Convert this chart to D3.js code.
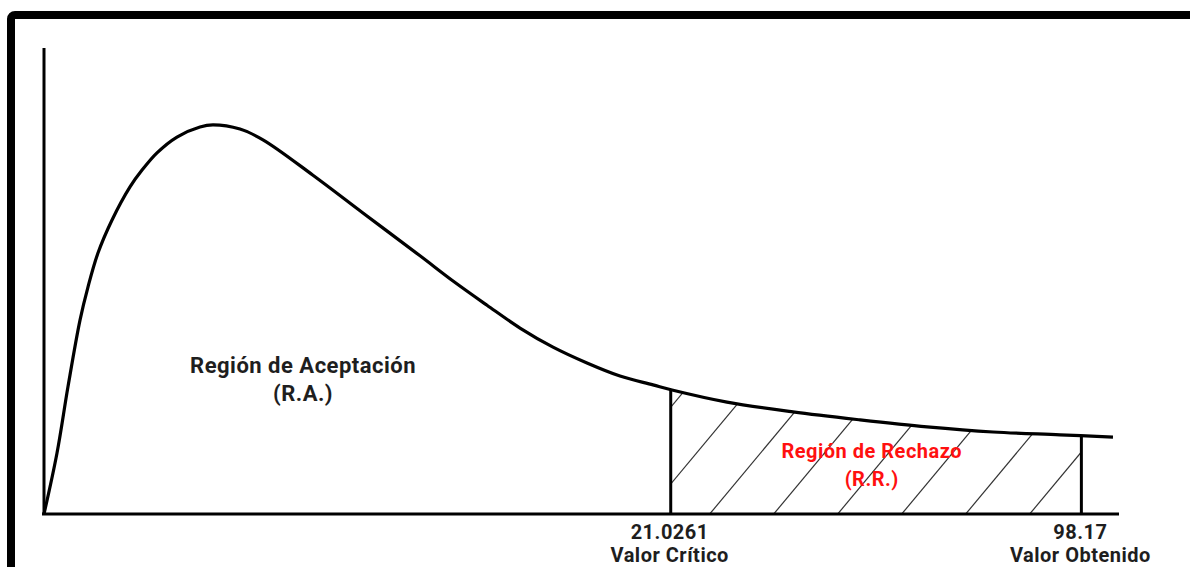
<!DOCTYPE html>
<html>
<head>
<meta charset="utf-8">
<script src="https://cdn.jsdelivr.net/npm/d3@7"></script>
<style>
  html, body { margin: 0; padding: 0; background: #fff; overflow: hidden; }
  text { font-family: Roboto, "Noto Sans", sans-serif; font-weight: 700; }
</style>
</head>
<body>
<div id="chart"></div>
<script>
// curve (schematic chi-square shape), x and y in relative units 0..100
const curveX = [0, 1.21, 2.23, 3.35, 4.09, 5.02, 6.33, 8.0, 9.12, 10.51, 12.37, 14.51, 15.72,
  18.23, 20.37, 25.02, 29.67, 34.98, 38.05, 41.21, 44.28, 47.35, 50.51, 53.58, 56.65, 58.42,
  63.53, 69.67, 75.91, 82.14, 88.28, 94.51, 99.44];
const curveY = [0, 13.1, 27.3, 41.6, 48.7, 56.0, 63.1, 70.2, 73.8, 77.5, 80.9, 83.05, 83.5,
  82.6, 80.3, 72.7, 64.6, 55.4, 50.0, 44.8, 39.9, 35.8, 32.4, 29.6, 27.7, 26.6,
  24.0, 21.9, 20.2, 18.7, 17.6, 17.0, 16.5];

// marked positions on the axis
const markPos = [58.3, 96.5];
const markValues = ["21.0261", "98.17"];
const markNames = ["Valor Crítico", "Valor Obtenido"];

// region labels
const regionLabels = [
  { lines: ["Región de Aceptación", "(R.A.)"], x: 24.1, y: 30.3, color: "#1e1e1e", size: 22 },
  { lines: ["Región de Rechazo", "(R.R.)"], x: 77.0, y: 12.0, color: "#ff1010", size: 20 }
];

const width = 1190, height = 567;

const svg = d3.select("#chart").append("svg")
  .attr("width", width)
  .attr("height", height);

// frame (only top and left edges are inside the picture)
svg.append("rect")
  .attr("x", 11).attr("y", 15)
  .attr("width", 1400).attr("height", 800)
  .attr("rx", 4)
  .attr("fill", "none")
  .attr("stroke", "#000")
  .attr("stroke-width", 8);

const x = d3.scaleLinear().domain([0, 100]).range([44, 1119]);
const y = d3.scaleLinear().domain([0, 100]).range([514, 48]);

const pts = curveX.map((d, i) => [d, curveY[i]]);
const smooth = d3.curveCatmullRom.alpha(0.5);

const line = d3.line()
  .x(d => x(d[0]))
  .y(d => y(d[1]))
  .curve(smooth);

// rejection region clip
const rr = pts.filter(d => d[0] > markPos[0] && d[0] < markPos[1]);
const yAt = v => {
  const i = d3.bisector(d => d[0]).left(pts, v);
  const a = pts[i - 1], b = pts[i];
  return a[1] + (b[1] - a[1]) * (v - a[0]) / (b[0] - a[0]);
};
const rrPts = [[markPos[0], yAt(markPos[0])], ...rr, [markPos[1], yAt(markPos[1])]];

const area = d3.area()
  .x(d => x(d[0]))
  .y0(y(0))
  .y1(d => y(d[1]))
  .curve(d3.curveMonotoneX);

svg.append("clipPath").attr("id", "rr-clip")
  .append("path").attr("d", area(rrPts));

// hatching
const hatchStep = 64, slope = 1.2, hatchLen = 300;
const x0 = x(markPos[0]) + 39;
const hatchStarts = d3.range(x0 - hatchStep * 3, x(markPos[1]) + hatchStep, hatchStep);
svg.append("g")
  .attr("clip-path", "url(#rr-clip)")
  .selectAll("line")
  .data(hatchStarts)
  .join("line")
  .attr("x1", d => d)
  .attr("y1", y(0))
  .attr("x2", d => d + hatchLen / slope)
  .attr("y2", y(0) - hatchLen)
  .attr("stroke", "#333")
  .attr("stroke-width", 1.2);

// axes
svg.append("line")
  .attr("x1", x(0)).attr("x2", x(0))
  .attr("y1", y(0) + 1).attr("y2", y(100))
  .attr("stroke", "#000").attr("stroke-width", 3);
svg.append("line")
  .attr("x1", x(0) - 2).attr("x2", x(100))
  .attr("y1", y(0)).attr("y2", y(0))
  .attr("stroke", "#000").attr("stroke-width", 3);

// vertical marks
svg.selectAll(".mark")
  .data(markPos)
  .join("line")
  .attr("class", "mark")
  .attr("x1", d => x(d)).attr("x2", d => x(d))
  .attr("y1", y(0)).attr("y2", d => y(yAt(d)))
  .attr("stroke", "#000").attr("stroke-width", 3);

// curve
svg.append("path")
  .attr("d", line(pts))
  .attr("fill", "none")
  .attr("stroke", "#000")
  .attr("stroke-width", 3.2);

// mark labels
const ml = svg.append("g").selectAll("g")
  .data(markPos)
  .join("g")
  .attr("transform", d => `translate(${x(d) - 1},0)`);
ml.append("text")
  .attr("y", 539)
  .attr("text-anchor", "middle")
  .attr("fill", "#1e1e1e")
  .style("font-size", "20px")
  .style("letter-spacing", "0.5px")
  .text((d, i) => markValues[i]);
ml.append("text")
  .attr("y", 562)
  .attr("text-anchor", "middle")
  .attr("fill", "#1e1e1e")
  .style("font-size", "20px")
  .style("letter-spacing", "0.5px")
  .text((d, i) => markNames[i]);

// region labels
regionLabels.forEach(r => {
  const t = svg.append("text")
    .attr("x", x(r.x))
    .attr("y", y(r.y))
    .attr("text-anchor", "middle")
    .attr("fill", r.color)
    .style("font-size", r.size + "px")
    .style("letter-spacing", "0.5px");
  r.lines.forEach((s, i) => {
    t.append("tspan")
      .attr("x", x(r.x))
      .attr("dy", i ? 28 : 0)
      .text(s);
  });
});
</script>
</body>
</html>
